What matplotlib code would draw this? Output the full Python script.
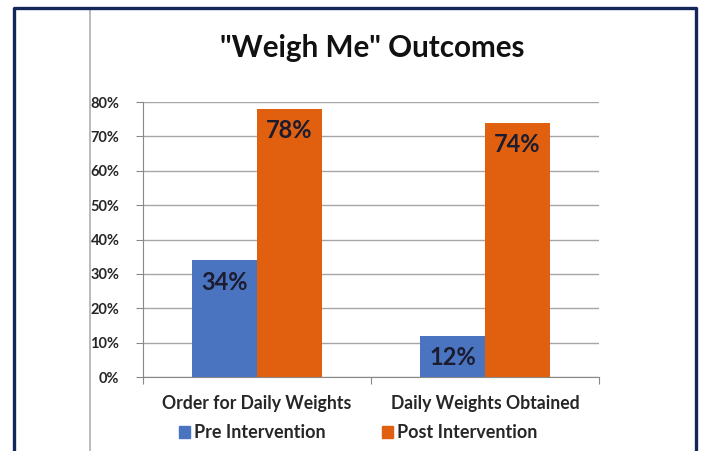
import numpy as np
import matplotlib.pyplot as plt
from matplotlib.lines import Line2D
from matplotlib.patches import Patch

# chart data
categories = ["Order for Daily Weights", "Daily Weights Obtained"]
pre_values = [34, 12]
post_values = [78, 74]
series_names = ["Pre Intervention", "Post Intervention"]
yticks = [0, 10, 20, 30, 40, 50, 60, 70, 80]

blue = "#4a74bf"
orange = "#e1600f"
text_col = "#262626"
plt.rcParams["font.family"] = ["Lato", "DejaVu Sans"]

fig = plt.figure(figsize=(7.01, 4.51), dpi=100)
ax = fig.add_axes([0.204, 0.164, 0.6505, 0.6098])

x = np.arange(len(categories))
w = 0.285
b1 = ax.bar(x - w / 2, pre_values, w, color=blue, zorder=3)
b2 = ax.bar(x + w / 2, post_values, w, color=orange, zorder=3)

# value labels just inside the top of each bar
for bars, vals in ((b1, pre_values), (b2, post_values)):
    for bar, v in zip(bars, vals):
        ax.annotate(f"{v}%", (bar.get_x() + bar.get_width() / 2, v),
                    xytext=(0, -22), textcoords="offset pixels",
                    ha="center", va="center", fontsize=17,
                    fontweight="bold", color="#1c1c30", zorder=4)

ax.set_xlim(-0.5, 1.5)
ax.set_ylim(0, 80)
ax.set_yticks(yticks)
ax.set_yticklabels([f"{t}%" for t in yticks], fontsize=10.5,
                   fontweight="bold", color=text_col)
ax.yaxis.grid(True, color="#a6a6a6", linewidth=1, zorder=0)

# category ticks sit between the groups like Excel
ax.set_xticks([-0.5, 0.5, 1.5])
ax.set_xticklabels([])
ax.set_xticks(x, minor=True)
ax.set_xticklabels(categories, minor=True, fontsize=12.7,
                   fontweight="bold", color=text_col)
ax.tick_params(axis="x", which="minor", length=0, pad=13)
ax.tick_params(axis="x", which="major", length=5, color="#888888")
ax.tick_params(axis="y", length=5, color="#888888", pad=12)

for side in ("top", "right"):
    ax.spines[side].set_visible(False)
ax.spines["left"].set_color("#888888")
ax.spines["bottom"].set_color("#888888")

fig.text(0.531, 0.893, '"Weigh Me" Outcomes', ha="center", va="center",
         fontsize=21.3, fontweight="bold", color="#111111")

handles = [Patch(color=blue), Patch(color=orange)]
fig.legend(handles, series_names, loc="center", bbox_to_anchor=(0.511, 0.04),
           ncol=2, frameon=False, handlelength=0.6, handleheight=0.6,
           handletextpad=0.25, columnspacing=3.1,
           prop={"size": 13, "weight": "bold"}, labelcolor=text_col)

# page frame and the gray rule on the left
fig.add_artist(Line2D([0.128, 0.128], [0, 0.982], color="#b5b5b5",
                      linewidth=1.3, transform=fig.transFigure))
fig.add_artist(Line2D([0.02, 0.02, 0.993, 0.993], [0, 0.982, 0.982, 0],
                      color="#13275a", linewidth=2.4,
                      transform=fig.transFigure))

fig.savefig("out.png", dpi=100)
